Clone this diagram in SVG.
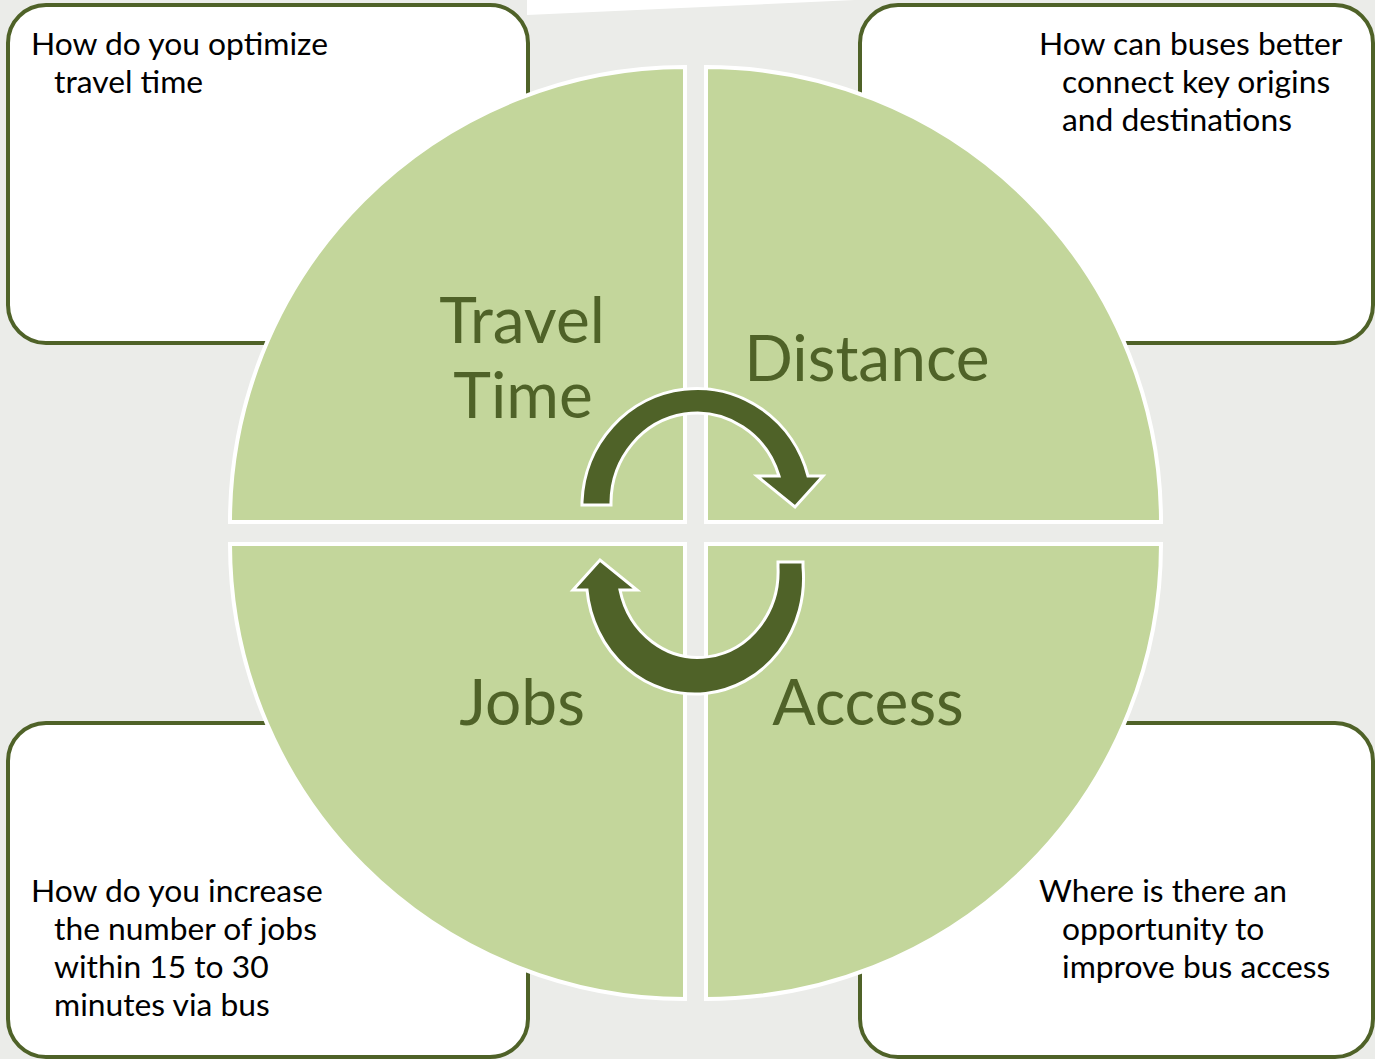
<svg xmlns="http://www.w3.org/2000/svg" width="1375" height="1059" viewBox="0 0 1375 1059">
<style>
.box{fill:#FFFFFF;stroke:#4F6228;stroke-width:4}
.q{fill:#C3D69B;stroke:#FFFFFF;stroke-width:4}
.arr{fill:#4F6228;stroke:#FFFFFF;stroke-width:3;stroke-linejoin:miter}
.t{font-family:Lato,"Liberation Sans",sans-serif;font-size:31.8px;fill:#000000}
.lbl{font-family:Lato,"Liberation Sans",sans-serif;font-size:64px;fill:#4F6228;text-anchor:middle}
</style>
<rect x="0" y="0" width="1375" height="1059" fill="#EBECE9"/>
<polygon points="527,0 527,15 855,0" fill="#FFFFFF"/>
<g id="box-travel-time">
<rect class="box" x="8" y="5" width="520" height="338" rx="38"/>
<text class="t" x="31" y="55">How do you optimize</text>
<text class="t" x="54" y="93">travel time</text>
</g>
<g id="box-distance">
<rect class="box" x="860" y="5" width="513" height="338" rx="38"/>
<text class="t" x="1039" y="55">How can buses better</text>
<text class="t" x="1062" y="93">connect key origins</text>
<text class="t" x="1062" y="131">and destinations</text>
</g>
<g id="box-jobs">
<rect class="box" x="8" y="723" width="520" height="334" rx="38"/>
<text class="t" x="31" y="902">How do you increase</text>
<text class="t" x="54" y="940">the number of jobs</text>
<text class="t" x="54" y="978">within 15 to 30</text>
<text class="t" x="54" y="1016">minutes via bus</text>
</g>
<g id="box-access">
<rect class="box" x="860" y="723" width="513" height="334" rx="38"/>
<text class="t" x="1039" y="902">Where is there an</text>
<text class="t" x="1062" y="940">opportunity to</text>
<text class="t" x="1062" y="978">improve bus access</text>
</g>
<g id="quad-travel-time">
<path class="q" d="M685,522 L230,522 A455,455 0 0 1 685,67 Z"/>
<text class="lbl" x="522" y="343">Travel</text>
<text class="lbl" x="523" y="418">Time</text>
</g>
<g id="quad-distance">
<path class="q" d="M706,522 L706,67 A455,455 0 0 1 1161,522 Z"/>
<text class="lbl" x="867" y="381">Distance</text>
</g>
<g id="quad-access">
<path class="q" d="M706,544 L1161,544 A455,455 0 0 1 706,999 Z"/>
<text class="lbl" x="868" y="725">Access</text>
</g>
<g id="quad-jobs">
<path class="q" d="M685,544 L685,999 A455,455 0 0 1 230,544 Z"/>
<text class="lbl" x="522" y="725">Jobs</text>
</g>
<g id="connectors">
<path id="arrow-top" class="arr" d="M582,505 L582,502 A115,118 0 0 1 808,476 L823,476 L795,507 L757,476 L779,476 A86,90 0 0 0 611,502 L611,505 Z"/>
<path id="arrow-bottom" class="arr" d="M803,562 L803,567 A108,115 0 0 1 587,590 L573,590 L600,560 L637,590 L620,590 A80,86 0 0 0 778,567 L778,562 Z"/>
</g>
</svg>
